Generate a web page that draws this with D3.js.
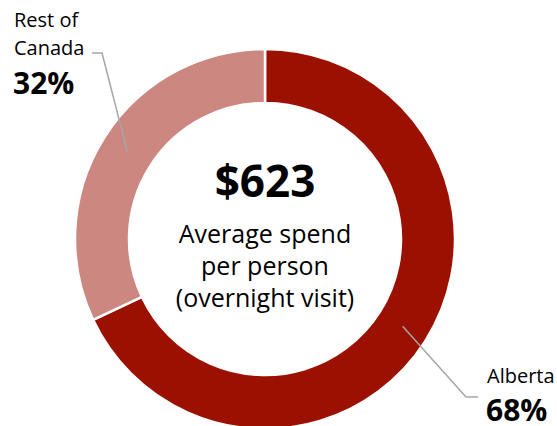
<!DOCTYPE html>
<html>
<head>
<meta charset="utf-8">
<script src="https://cdn.jsdelivr.net/npm/d3@7"></script>
<style>
  html, body { margin: 0; padding: 0; background: #fff; }
  svg { display: block; font-family: "Open Sans", "Noto Sans", sans-serif; }
</style>
</head>
<body>
<svg id="chart" width="557" height="426"></svg>
<script>
// Share of visitor spending by origin
const regions = ["Alberta", "Rest of Canada"];
const shares = [68, 32];
const shareLabels = ["68%", "32%"];
const centerValue = "$623";
const centerCaption = ["Average spend", "per person", "(overnight visit)"];

const colors = d3.scaleOrdinal().domain(regions).range(["#9c1000", "#cd8781"]);

const svg = d3.select("#chart");
const cx = 265, cy = 239, outerR = 190, innerR = 136;

const data = regions.map((r, i) => ({ region: r, value: shares[i], label: shareLabels[i] }));
const pie = d3.pie().sort(null).value(d => d.value);
const arc = d3.arc().innerRadius(innerR).outerRadius(outerR);
const arcs = pie(data);

const g = svg.append("g").attr("transform", `translate(${cx},${cy})`);

g.selectAll("path.slice")
  .data(arcs)
  .join("path")
  .attr("class", "slice")
  .attr("d", arc)
  .attr("fill", d => colors(d.data.region))
  .attr("stroke", "#fff")
  .attr("stroke-width", 2.5);

// Leader lines start at the middle of each ring segment
const labelLayout = {
  "Alberta": { elbow: [466, 397], end: [478, 397], textX: 487, nameY: 383, pctY: 421, nameLines: ["Alberta"] },
  "Rest of Canada": { elbow: [102, 53], end: [92, 53], textX: 14, nameY: 27, pctY: 94, nameLines: ["Rest of", "Canada"] }
};

arcs.forEach(a => {
  const L = labelLayout[a.data.region];
  const c = arc.centroid(a);
  const start = [cx + c[0], cy + c[1]];
  svg.append("polyline")
    .attr("points", [start, L.elbow, L.end].map(p => p.join(",")).join(" "))
    .attr("fill", "none")
    .attr("stroke", "#a6a6a6")
    .attr("stroke-width", 1.5);

  const t = svg.append("text")
    .attr("x", L.textX)
    .attr("y", L.nameY)
    .attr("font-size", 20)
    .attr("fill", "#000");
  L.nameLines.forEach((line, i) => {
    t.append("tspan").attr("x", L.textX).attr("dy", i === 0 ? 0 : 28).text(line);
  });
  svg.append("text")
    .attr("x", L.textX - 1)
    .attr("y", L.pctY)
    .attr("font-size", 30)
    .attr("font-weight", 700)
    .attr("fill", "#000")
    .text(a.data.label);
});

// Centre annotation
svg.append("text")
  .attr("x", cx).attr("y", 197)
  .attr("text-anchor", "middle")
  .attr("font-size", 44)
  .attr("font-weight", 700)
  .text(centerValue);

centerCaption.forEach((line, i) => {
  svg.append("text")
    .attr("x", cx).attr("y", 243 + i * 32)
    .attr("text-anchor", "middle")
    .attr("font-size", 25)
    .text(line);
});
</script>
</body>
</html>
